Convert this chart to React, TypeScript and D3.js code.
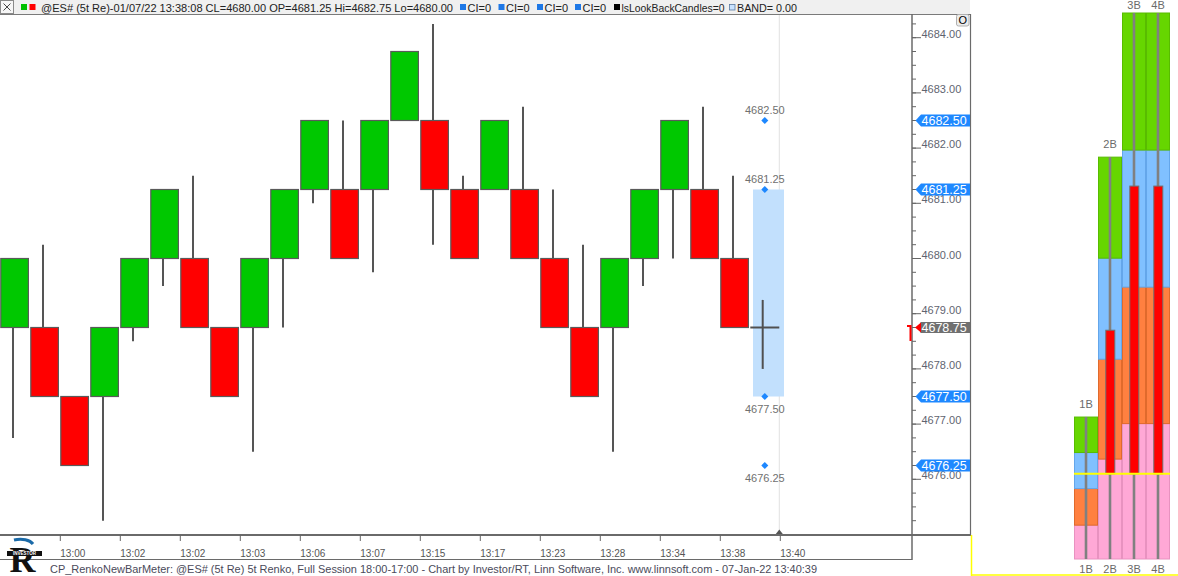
import React from 'react';
import * as d3 from 'd3';

// ---------- DATA ----------
const opens = [4678.75, 4678.75, 4677.5, 4677.5, 4678.75, 4680, 4680, 4678.75, 4678.75, 4680, 4681.25, 4681.25, 4681.25, 4682.5, 4682.5, 4681.25, 4681.25, 4681.25, 4680, 4678.75, 4678.75, 4680, 4681.25, 4681.25, 4680];
const closes = [4680, 4677.5, 4676.25, 4678.75, 4680, 4681.25, 4678.75, 4677.5, 4680, 4681.25, 4682.5, 4680, 4682.5, 4683.75, 4681.25, 4680, 4682.5, 4680, 4678.75, 4677.5, 4680, 4681.25, 4682.5, 4680, 4678.75];
const highs = [4680, 4680.25, 4677.5, 4678.75, 4680, 4681.25, 4681.5, 4678.75, 4680, 4681.25, 4682.5, 4682.5, 4682.5, 4683.75, 4684.25, 4681.5, 4682.5, 4682.75, 4681.25, 4680.25, 4680, 4681.25, 4682.5, 4682.75, 4681.5];
const lows = [4676.75, 4677.5, 4676.25, 4675.25, 4678.5, 4679.5, 4678.75, 4677.5, 4676.5, 4678.75, 4681.0, 4680, 4679.75, 4682.5, 4680.25, 4680, 4681.25, 4680, 4678.75, 4677.5, 4676.5, 4679.5, 4680.0, 4680, 4678.75];
const currentOHLC = [4678.75, 4679.25, 4678.0, 4678.75];
const timeLabels = ['13:00', '13:02', '13:02', '13:03', '13:06', '13:07', '13:15', '13:17', '13:23', '13:28', '13:34', '13:38', '13:40'];
const bandRange = [4677.5, 4681.25];
const targetLevels = [4682.5, 4681.25, 4677.5, 4676.25];
const lastPrice = 4678.75;
const axisMajor = d3.range(4676, 4684.01, 1);
const axisMinor = d3.range(4675.25, 4684.26, 0.25);

const meterCols = ['1B', '2B', '3B', '4B'];
const meterPinkTop = [6.2, 18.3, 24.8, 24.8];
const meterOrangeTop = [12.9, 36.6, 49.8, 49.8];
const meterBlueTop = [19.5, 55.1, 74.9, 74.9];
const meterGreenTop = [26.0, 73.6, 100, 100];
const meterRedTop = [0, 41.9, 68.3, 68.3];
const meterCurrent = 15.6;

const headerMain = '@ES# (5t Re)-01/07/22 13:38:08 CL=4680.00 OP=4681.25 Hi=4682.75 Lo=4680.00';
const footerText = 'CP_RenkoNewBarMeter: @ES# (5t Re) 5t Renko, Full Session 18:00-17:00 - Chart by Investor/RT, Linn Software, Inc. www.linnsoft.com - 07-Jan-22 13:40:39';

const FONT = "'Liberation Sans', Arial, sans-serif";

export default function App() {
  const y = d3.scaleLinear().domain([4680, 4684]).range([258.5, 37.7]);
  const x = d3.scaleLinear().domain([0, 1]).range([0.3, 30.3]);
  const my = d3.scaleLinear().domain([0, 100]).range([559, 13]);
  const mx = d3.scaleBand<string>().domain(meterCols).range([1074, 1170]).padding(0);
  const fmt = d3.format('.2f');
  const ci = opens.length;

  const segs = [
    { lo: (i: number) => 0, hi: (i: number) => meterPinkTop[i], fill: '#ffa8d6', stroke: '#e892c0' },
    { lo: (i: number) => meterPinkTop[i], hi: (i: number) => meterOrangeTop[i], fill: '#ff8040', stroke: '#e06a2c' },
    { lo: (i: number) => meterOrangeTop[i], hi: (i: number) => meterBlueTop[i], fill: '#80c0ff', stroke: '#64a6ea' },
    { lo: (i: number) => meterBlueTop[i], hi: (i: number) => meterGreenTop[i], fill: '#66d600', stroke: '#58bc00' },
  ];

  return (
    <svg width={1178} height={576} style={{ position: 'absolute', left: 0, top: 0, background: '#fff' }} fontFamily={FONT}>
      <rect x={0} y={0} width={1178} height={576} fill="#fff" />
      {/* header */}
      <rect x={0} y={0} width={970} height={14} fill="#f0f0f0" />
      <line x1={0} x2={970} y1={14.5} y2={14.5} stroke="#7a7a7a" />
      <rect x={0.5} y={0.5} width={13} height={13} fill="#f6f6f6" stroke="#8a8a8a" />
      <line x1={3.5} y1={3.5} x2={10.5} y2={10.5} stroke="#333" strokeWidth={0.9} />
      <line x1={10.5} y1={3.5} x2={3.5} y2={10.5} stroke="#333" strokeWidth={0.9} />
      <rect x={21} y={4} width={6} height={6} fill="#00c000" />
      <rect x={29.5} y={4} width={6} height={6} fill="#ff0000" />
      <text x={41} y={11.5} fontSize={11} fill="#222" textLength={412} lengthAdjust="spacingAndGlyphs">{headerMain}</text>
      {[460, 498.5, 537, 575].map((sx, k) => (
        <g key={k}>
          <rect x={sx} y={4} width={6} height={6} fill="#1e78e6" />
          <text x={sx + 7.5} y={11.5} fontSize={11} fill="#222">CI=0</text>
        </g>
      ))}
      <rect x={614} y={4} width={6} height={6} fill="#000" />
      <text x={621.5} y={11.5} fontSize={11} fill="#222" textLength={103} lengthAdjust="spacingAndGlyphs">lsLookBackCandles=0</text>
      <rect x={729.5} y={4.5} width={5.5} height={5.5} fill="#c8e2ff" stroke="#5a7aa0" strokeWidth={0.8} />
      <text x={737} y={11.5} fontSize={11} fill="#222" textLength={60} lengthAdjust="spacingAndGlyphs">BAND= 0.00</text>

      {/* plot frame */}
      <line x1={970.5} x2={970.5} y1={14} y2={535} stroke="#6a6a6a" strokeWidth={1.2} />
      <line x1={0} x2={971} y1={535} y2={535} stroke="#6a6a6a" strokeWidth={2} />
      <line x1={912} x2={912} y1={14} y2={560} stroke="#6a6a6a" strokeWidth={1.5} />
      <line x1={0} x2={912} y1={559.5} y2={559.5} stroke="#6a6a6a" strokeWidth={1.2} />

      {/* current bar vertical line */}
      <line x1={x(ci + 1) - 1} x2={x(ci + 1) - 1} y1={15} y2={534} stroke="#e2e2e2" strokeWidth={1} />
      <path d={`M${x(ci + 1) - 4.5},534 L${x(ci + 1) - 1},529.5 L${x(ci + 1) + 2.5},534 Z`} fill="#555" />

      {/* candles */}
      {opens.map((o, i) => {
        const c = closes[i];
        const up = c > o;
        const top = y(Math.max(o, c));
        const bot = y(Math.min(o, c));
        const wx = x(i) + 12.7;
        return (
          <g key={i}>
            <line x1={wx} x2={wx} y1={y(highs[i])} y2={y(lows[i])} stroke="#555" strokeWidth={2} />
            <rect x={x(i) + 0.5} y={top} width={27.6} height={bot - top} fill={up ? '#00c800' : '#ff0000'} stroke="#5a5a5a" strokeWidth={1.2} />
          </g>
        );
      })}

      {/* band */}
      <rect x={x(ci) + 2.7} y={y(bandRange[1])} width={31} height={y(bandRange[0]) - y(bandRange[1])} fill="#c2e0fd" />
      {/* current OHLC */}
      <line x1={x(ci) + 12.4} x2={x(ci) + 12.4} y1={y(currentOHLC[1])} y2={y(currentOHLC[2])} stroke="#505050" strokeWidth={2} />
      <line x1={x(ci)} x2={x(ci) + 12.4} y1={y(currentOHLC[0])} y2={y(currentOHLC[0])} stroke="#505050" strokeWidth={2} />
      <line x1={x(ci) + 12.4} x2={x(ci) + 29} y1={y(currentOHLC[3])} y2={y(currentOHLC[3])} stroke="#505050" strokeWidth={2} />

      {/* targets */}
      {targetLevels.map((p, k) => {
        const cx = x(ci) + 14.5;
        const cy = y(p);
        const above = p > bandRange[0];
        return (
          <g key={k}>
            <path d={`M${cx},${cy - 3.5} L${cx + 3.5},${cy} L${cx},${cy + 3.5} L${cx - 3.5},${cy} Z`} fill="#1e88ff" />
            <text x={cx} y={above ? cy - 7 : cy + 16} fontSize={11} fill="#707070" textAnchor="middle">{fmt(p)}</text>
          </g>
        );
      })}

      {/* y axis */}
      {axisMinor.map((p, k) => (
        <line key={k} x1={912} x2={916} y1={y(p)} y2={y(p)} stroke="#666" strokeWidth={1} />
      ))}
      {axisMajor.map((p, k) => (
        <g key={k}>
          <line x1={912} x2={921} y1={y(p)} y2={y(p)} stroke="#666" strokeWidth={1} />
          <text x={921.5} y={y(p)} fontSize={11} fill="#5f6470">{fmt(p)}</text>
        </g>
      ))}
      {targetLevels.map((p, k) => (
        <g key={k}>
          <path d={`M915.5,${y(p)} L921,${y(p) - 6} L970,${y(p) - 6} L970,${y(p) + 6} L921,${y(p) + 6} Z`} fill="#1e88ff" />
          <text x={921.5} y={y(p) + 4.6} fontSize={12.5} fill="#fff">{fmt(p)}</text>
        </g>
      ))}
      <rect x={920.5} y={y(lastPrice) - 5.5} width={49.5} height={11} fill="#707070" />
      <path d={`M915,${y(lastPrice)} L921,${y(lastPrice) - 5} L921,${y(lastPrice) + 5} Z`} fill="#ff0000" />
      <text x={921.5} y={y(lastPrice) + 4.6} fontSize={12.5} fill="#fff">{fmt(lastPrice)}</text>
      <path d={`M907,${y(lastPrice) - 1.5} H910.5 V${y(lastPrice) + 13.5}`} fill="none" stroke="#ff0000" strokeWidth={2} />

      {/* O button */}
      <rect x={956.5} y={14.5} width={12.5} height={11.5} rx={2} fill="#ececec" stroke="#b0b0b0" />
      <text x={962.7} y={24} fontSize={11} fill="#000" textAnchor="middle">O</text>

      {/* x axis */}
      {timeLabels.map((t, k) => {
        const tx = x(2 * (k + 1));
        return (
          <g key={k}>
            <line x1={tx} x2={tx} y1={535} y2={541} stroke="#666" strokeWidth={1} />
            <text x={tx} y={557} fontSize={10} fill="#555">{t}</text>
          </g>
        );
      })}

      {/* footer */}
      <text x={50} y={573} fontSize={11} fill="#4a4a5a" textLength={767} lengthAdjust="spacingAndGlyphs">{footerText}</text>
      <g>
        <path d="M14,540 C22,538 30,540 33,544" fill="none" stroke="#1a6aa8" strokeWidth={3} />
        <text x={9.5} y={572} fontSize={36} fontWeight="bold" fontFamily="'Liberation Serif', serif" fill="#111">R</text>
        <rect x={7} y={551} width={35} height={5} fill="#111" />
        <text x={24.5} y={555.3} fontSize={4.5} fill="#fff" textAnchor="middle" fontWeight="bold">INVESTOR</text>
      </g>

      {/* yellow frame for meter */}
      <line x1={971.5} x2={971.5} y1={535} y2={576} stroke="#ffff00" strokeWidth={1.5} />
      <line x1={971} x2={1178} y1={575} y2={575} stroke="#ffff00" strokeWidth={1.5} />

      {/* meter */}
      {meterCols.map((c, i) => {
        const x0 = mx(c) as number;
        const w = mx.bandwidth();
        const cx = x0 + w / 2;
        const topY = my(meterGreenTop[i]);
        return (
          <g key={c}>
            {segs.map((s, k) => (
              <rect key={k} x={x0 + 0.5} y={my(s.hi(i))} width={w - 1} height={my(s.lo(i)) - my(s.hi(i))} fill={s.fill} stroke={s.stroke} strokeWidth={1} />
            ))}
            <line x1={cx} x2={cx} y1={topY} y2={559} stroke="#808080" strokeWidth={2.6} />
            {meterRedTop[i] > meterCurrent && (
              <rect x={cx - 4.2} y={my(meterRedTop[i])} width={9} height={my(meterCurrent) - my(meterRedTop[i])} fill="#ff0000" stroke="#707070" strokeWidth={1} />
            )}
            <text x={cx} y={Math.max(topY - 9.5, 9)} fontSize={11} fill="#6a6a6a" textAnchor="middle">{c}</text>
            <text x={cx} y={573} fontSize={11} fill="#6a6a6a" textAnchor="middle">{c}</text>
          </g>
        );
      })}
      <line x1={1074} x2={1170} y1={my(meterCurrent)} y2={my(meterCurrent)} stroke="#ffff00" strokeWidth={2} />
    </svg>
  );
}
